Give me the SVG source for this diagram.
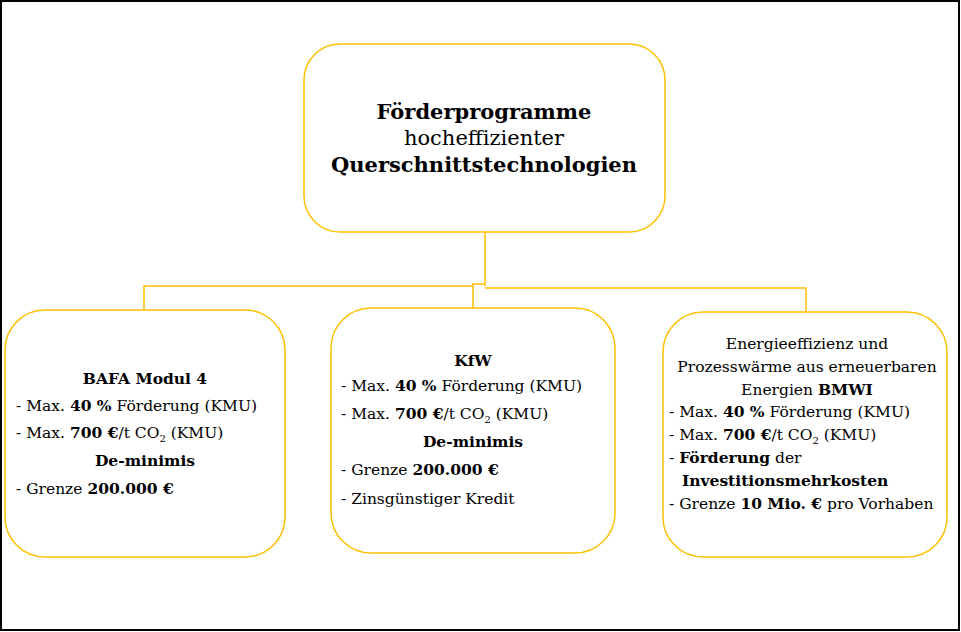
<svg xmlns="http://www.w3.org/2000/svg" width="961" height="632" viewBox="0 0 961 632">
<style>
.b{fill:#fff;stroke:#FFC000;stroke-width:1.5}
.c{fill:none;stroke:#FFC000;stroke-width:1.5}
text{font-family:"DejaVu Serif","Liberation Serif",serif;font-size:15.5px;fill:#000}
.m{text-anchor:middle}
.h{font-size:21px}
b,.bd{font-weight:bold}
</style>
<rect x="1" y="1" width="958" height="629" fill="#fff" stroke="#000" stroke-width="2"/>
<g id="connectors">
<path class="c" d="M485 232V286M485 288H806V312M144 310V286H473V308M473 286V284H485"/>
</g>
<g id="top">
<rect class="b" x="304" y="44" width="361" height="188" rx="36"/>
<text class="m h" x="484" y="119" font-weight="bold">Förderprogramme</text>
<text class="m h" x="484" y="145">hocheffizienter</text>
<text class="m h" x="484" y="172" font-weight="bold">Querschnittstechnologien</text>
</g>
<g id="bafa">
<rect class="b" x="5" y="310" width="280" height="247" rx="40"/>
<text class="m" x="145" y="384" font-weight="bold">BAFA Modul 4</text>
<text x="16" y="411">- Max. <tspan font-weight="bold">40 %</tspan> Förderung (KMU)</text>
<text x="16" y="438">- Max. <tspan font-weight="bold">700 €</tspan>/t CO<tspan font-size="10" dy="4">2</tspan><tspan dy="-4"> (KMU)</tspan></text>
<text class="m" x="145" y="466" font-weight="bold">De-minimis</text>
<text x="16" y="494">- Grenze <tspan font-weight="bold">200.000 €</tspan></text>
</g>
<g id="kfw">
<rect class="b" x="331" y="308" width="284" height="245" rx="40"/>
<text class="m" x="473" y="366" font-weight="bold">KfW</text>
<text x="341" y="391">- Max. <tspan font-weight="bold">40 %</tspan> Förderung (KMU)</text>
<text x="341" y="419">- Max. <tspan font-weight="bold">700 €</tspan>/t CO<tspan font-size="10" dy="4">2</tspan><tspan dy="-4"> (KMU)</tspan></text>
<text class="m" x="473" y="447" font-weight="bold">De-minimis</text>
<text x="341" y="475">- Grenze <tspan font-weight="bold">200.000 €</tspan></text>
<text x="341" y="504">- Zinsgünstiger Kredit</text>
</g>
<g id="bmwi">
<rect class="b" x="663" y="312" width="284" height="245" rx="40"/>
<text class="m" x="807" y="349">Energieeffizienz und</text>
<text class="m" x="807" y="372">Prozesswärme aus erneuerbaren</text>
<text class="m" x="807" y="395">Energien <tspan font-weight="bold">BMWI</tspan></text>
<text x="669" y="417">- Max.  <tspan font-weight="bold">40 %</tspan> Förderung (KMU)</text>
<text x="669" y="440">- Max. <tspan font-weight="bold">700 €</tspan>/t CO<tspan font-size="10" dy="4">2</tspan><tspan dy="-4"> (KMU)</tspan></text>
<text x="669" y="463">- <tspan font-weight="bold">Förderung</tspan> der</text>
<text x="682" y="486" font-weight="bold">Investitionsmehrkosten</text>
<text x="669" y="509">- Grenze <tspan font-weight="bold">10 Mio. €</tspan> pro Vorhaben</text>
</g>
</svg>
